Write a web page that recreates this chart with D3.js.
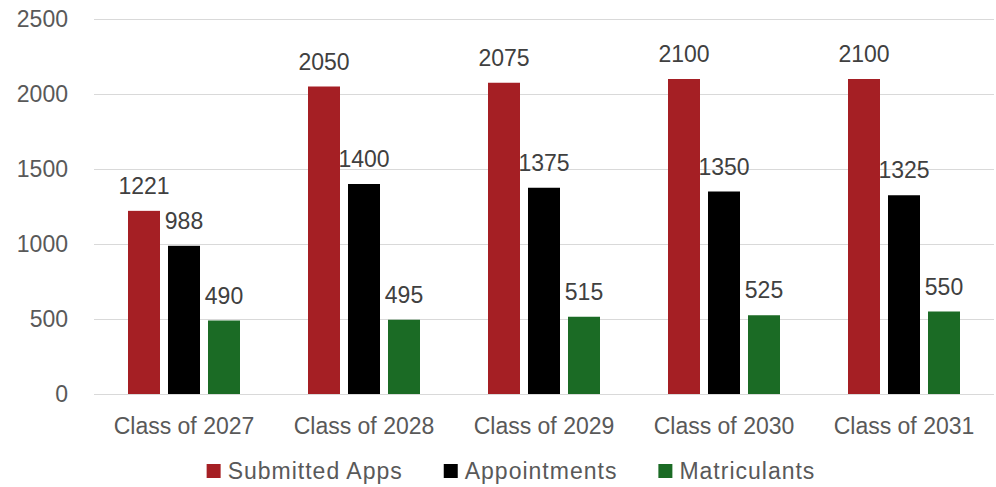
<!DOCTYPE html>
<html>
<head>
<meta charset="utf-8">
<script src="https://cdn.jsdelivr.net/npm/d3@7"></script>
<style>
  body { margin: 0; background: #fff; }
  text { font-family: "Liberation Sans", Arial, sans-serif; }
</style>
</head>
<body>
<div class="canvas"></div>
<script>
// data
const categories = ['Class of 2027', 'Class of 2028', 'Class of 2029', 'Class of 2030', 'Class of 2031'];
const seriesNames = ['Submitted Apps', 'Appointments', 'Matriculants'];
const submitted = [1221, 2050, 2075, 2100, 2100];
const appointments = [988, 1400, 1375, 1350, 1325];
const matriculants = [490, 495, 515, 525, 550];
const yTicks = [0, 500, 1000, 1500, 2000, 2500];

const colours = ['#a51f24', '#000000', '#1b6b25'];
const seriesValues = [submitted, appointments, matriculants];

const width = 996, height = 487;

const svg = d3.select('.canvas')
    .append('svg')
    .attr('width', width)
    .attr('height', height)
    .attr('style', 'background:#fff');

const x0 = d3.scaleBand()
    .domain(categories)
    .range([94, 994]);

const x1 = d3.scaleBand()
    .domain(seriesNames)
    .range([0, x0.bandwidth()])
    .paddingInner(0.2)
    .paddingOuter(0.85);

const y = d3.scaleLinear()
    .domain([0, 2500])
    .range([394, 19]);

// gridlines
svg.append('g')
    .selectAll('line')
    .data(yTicks)
    .join('line')
    .attr('x1', 94)
    .attr('x2', 994)
    .attr('y1', d => Math.round(y(d)) + 0.5)
    .attr('y2', d => Math.round(y(d)) + 0.5)
    .attr('stroke', '#d9d9d9')
    .attr('stroke-width', 1.2);

// tick labels
svg.append('g')
    .selectAll('text')
    .data(yTicks)
    .join('text')
    .attr('x', 68)
    .attr('y', d => y(d))
    .attr('dy', '0.36em')
    .attr('text-anchor', 'end')
    .attr('fill', '#595959')
    .attr('font-size', 23)
    .text(d => d);

// flatten rows for bars
const rows = [];
categories.forEach((c, i) => {
    seriesNames.forEach((s, j) => {
        rows.push({ cat: c, series: s, value: seriesValues[j][i], colour: colours[j] });
    });
});

const bars = svg.append('g');

bars.selectAll('rect')
    .data(rows)
    .join('rect')
    .attr('x', d => x0(d.cat) + x1(d.series))
    .attr('y', d => y(d.value))
    .attr('width', x1.bandwidth())
    .attr('height', d => y(0) - y(d.value))
    .attr('fill', d => d.colour);

bars.selectAll('text')
    .data(rows)
    .join('text')
    .attr('x', d => x0(d.cat) + x1(d.series) + x1.bandwidth() / 2)
    .attr('y', d => y(d.value) - 17)
    .attr('text-anchor', 'middle')
    .attr('fill', '#404040')
    .attr('font-size', 23)
    .text(d => d.value);

// category labels
svg.append('g')
    .selectAll('text')
    .data(categories)
    .join('text')
    .attr('x', d => x0(d) + x0.bandwidth() / 2)
    .attr('y', 434)
    .attr('text-anchor', 'middle')
    .attr('fill', '#595959')
    .attr('font-size', 23)
    .text(d => d);

// legend
const legend = svg.append('g');
const items = legend.selectAll('g')
    .data(seriesNames)
    .join('g');

items.append('rect')
    .attr('width', 14)
    .attr('height', 14)
    .attr('y', -7)
    .attr('fill', (d, i) => colours[i]);

items.append('text')
    .attr('x', 21)
    .attr('dy', '0.36em')
    .attr('fill', '#595959')
    .attr('font-size', 23)
    .attr('letter-spacing', 1)
    .text(d => d);

let pos = 0;
const offsets = [];
items.each(function () {
    offsets.push(pos);
    pos += this.getBBox().width + 41;
});
const total = pos - 41;
const startX = 511 - total / 2;
items.attr('transform', (d, i) => `translate(${startX + offsets[i]}, 471)`);
</script>
</body>
</html>
